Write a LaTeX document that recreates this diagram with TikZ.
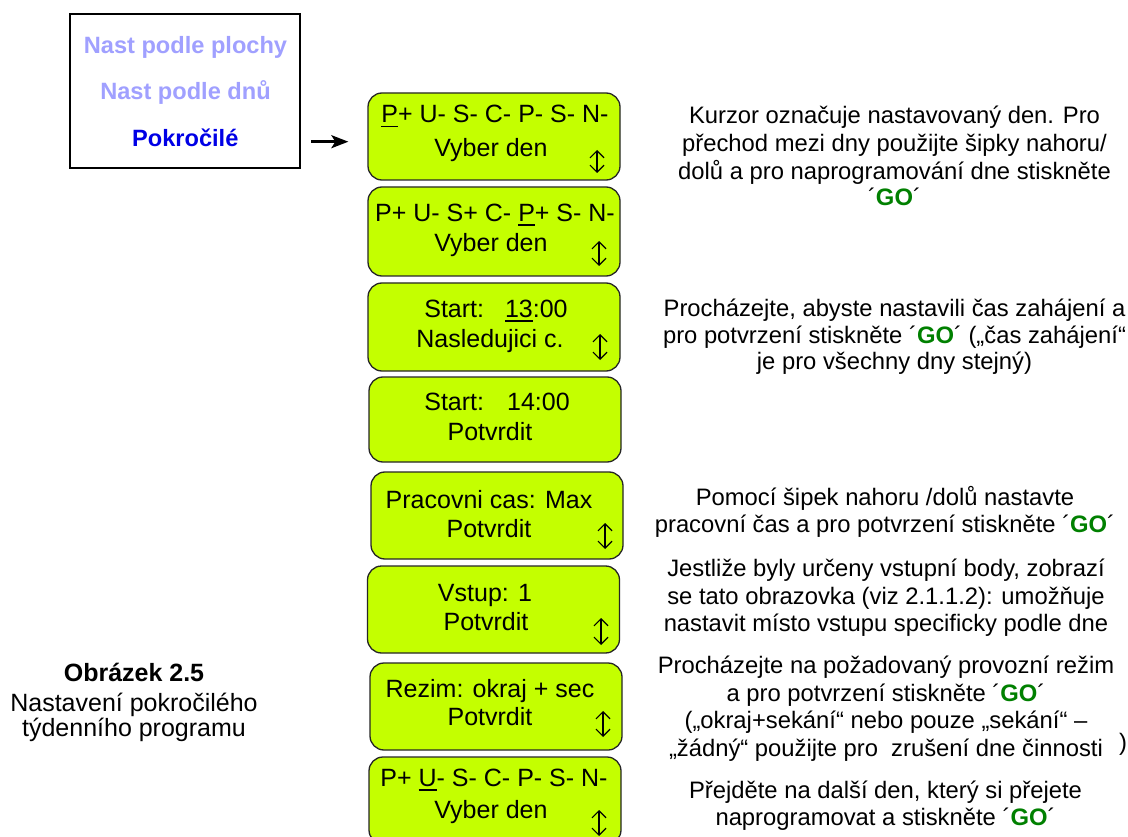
\documentclass[tikz,border=0pt]{standalone}
\usepackage{fontspec}
\setmainfont{Liberation Sans}
\usetikzlibrary{arrows.meta}
\definecolor{lcdfill}{RGB}{196,255,0}
\definecolor{lightmenu}{RGB}{160,160,255}
\definecolor{menublue}{RGB}{0,0,230}
\definecolor{gogreen}{RGB}{0,128,0}
\newcommand{\GOkey}{´\textbf{\textcolor{gogreen}{GO}}´}
\newcommand{\cursor}[1]{\setbox0=\hbox{#1}\rlap{\rule[-4.5pt]{\wd0}{1.8pt}}\box0}
\tikzset{
 lcd/.style={draw=black!85, line width=1.3pt, fill=lcdfill, rounded corners=14pt, minimum width=252pt, inner sep=0},
 lcdtxt/.style={anchor=base, inner sep=0, font=\fontsize{25}{30}\selectfont},
 note/.style={anchor=base, inner sep=0, font=\fontsize{23.8}{27.6}\selectfont},
 menutxt/.style={anchor=base, inner sep=0, font=\fontsize{23.6}{28}\selectfont\bfseries},
 captxt/.style={anchor=base, inner sep=0, font=\fontsize{25}{30}\selectfont},
 updown/.style={{Straight Barb[length=7pt,width=14pt]}-{Straight Barb[length=7pt,width=14pt]}, line width=1.2pt},
 arr/.style={-{Stealth[length=17pt,width=13pt,inset=4pt]}, line width=2.6pt}
}
\begin{document}
\begin{tikzpicture}[x=1pt,y=-1pt]
\clip (0,0) rectangle (1128,837);
\fill[white] (0,0) rectangle (1128,837);

% menu box
\node[draw, line width=2pt, minimum width=230pt, minimum height=154pt, inner sep=0] (menu) at (185.3,91.3) {};
\node[menutxt, text=lightmenu] (m1) at (185.5,53.3) {Nast podle plochy};
\node[menutxt, text=lightmenu] (m2) at (185.5,99.3) {Nast podle dnů};
\node[menutxt, text=menublue] (m3) at (185.3,146.7) {Pokročilé};

% LCD boxes
\node[lcd, minimum height=87pt] (b1) at (494,136.5) {};
\node[lcd, minimum height=89pt] (b2) at (494,231.5) {};
\node[lcd, minimum height=88pt] (b3) at (494,327) {};
\node[lcd, minimum height=85pt] (b4) at (495,419.5) {};
\node[lcd, minimum height=87pt] (b5) at (497,515.5) {};
\node[lcd, minimum height=87pt] (b6) at (493.5,609.5) {};
\node[lcd, minimum height=87pt] (b7) at (496,706.5) {};
\node[lcd, minimum height=87pt] (b8) at (495,800.5) {};

% LCD texts
\node[lcdtxt] (b1a) at (495,123) {\cursor{P}+ U- S- C- P- S- N-};
\node[lcdtxt] (b1b) at (491,157) {Vyber den};
\node[lcdtxt] (b2a) at (495,221.7) {P+ U- S+ C- \cursor{P}+ S- N-};
\node[lcdtxt] (b2b) at (491,251.7) {Vyber den};
\node[lcdtxt] (b3a) at (496,317.7) {Start:\hspace{21pt}\cursor{13}:00};
\node[lcdtxt] (b3b) at (490,348) {Nasledujici c.};
\node[lcdtxt] (b4a) at (497,410.7) {Start:\hspace{23pt}14:00};
\node[lcdtxt] (b4b) at (490,440) {Potvrdit};
\node[lcdtxt] (b5a) at (489,508) {Pracovni cas: Max};
\node[lcdtxt] (b5b) at (489,537) {Potvrdit};
\node[lcdtxt] (b6a) at (485,601.7) {Vstup: 1};
\node[lcdtxt] (b6b) at (486,630.7) {Potvrdit};
\node[lcdtxt] (b7a) at (490,697) {Rezim: okraj + sec};
\node[lcdtxt] (b7b) at (490,725.7) {Potvrdit};
\node[lcdtxt] (b8a) at (494,786.7) {P+ \cursor{U}- S- C- P- S- N-};
\node[lcdtxt] (b8b) at (491,818) {Vyber den};

% up/down arrows
\draw[updown] (597,150) -- (597,173);
\draw[updown] (599,241) -- (599,266);
\draw[updown] (600,334) -- (600,360);
\draw[updown] (605,523) -- (605,549);
\draw[updown] (601,618) -- (601,645);
\draw[updown] (603,711) -- (603,737);
\draw[updown] (599,810) -- (599,836);

% connector
\coordinate (arrowy) at (0,141.7);
\draw[arr, shorten <=10pt, shorten >=19pt] (menu.east |- arrowy) -- (b1.west |- arrowy);

% notes
\node[note] (n1a) at (894.5,123.3) {Kurzor označuje nastavovaný den. Pro};
\node[note] (n1b) at (894.5,151.7) {přechod mezi dny použijte šipky nahoru/};
\node[note] (n1c) at (894.5,179.3) {dolů a pro naprogramování dne stiskněte};
\node[note] (n1d) at (894.5,206) {\GOkey};

\node[note] (n2a) at (894.5,316.7) {Procházejte, abyste nastavili čas zahájení a};
\node[note] (n2b) at (894.5,343.3) {pro potvrzení stiskněte \GOkey{} („čas zahájení“};
\node[note] (n2c) at (894.5,370) {je pro všechny dny stejný)};

\node[note] (n3a) at (885,505) {Pomocí šipek nahoru /dolů nastavte};
\node[note] (n3b) at (885,532.7) {pracovní čas a pro potvrzení stiskněte \GOkey};

\node[note] (n4a) at (886,576.7) {Jestliže byly určeny vstupní body, zobrazí};
\node[note] (n4b) at (886,604) {se tato obrazovka (viz 2.1.1.2): umožňuje};
\node[note] (n4c) at (886,631.7) {nastavit místo vstupu specificky podle dne};

\node[note] (n5a) at (886,673.3) {Procházejte na požadovaný provozní režim};
\node[note] (n5b) at (886,701) {a pro potvrzení stiskněte \GOkey};
\node[note] (n5c) at (886,728.3) {(„okraj+sekání“ nebo pouze „sekání“ –};
\node[note] (n5d) at (886,756) {„žádný“ použijte pro\ \ zrušení dne činnosti};
\node[note] (n5e) at (1123,750) {)};

\node[note] (n6a) at (885.5,798.3) {Přejděte na další den, který si přejete};
\node[note] (n6b) at (885.5,825) {naprogramovat a stiskněte \GOkey};

% caption
\node[captxt, font=\fontsize{25}{30}\selectfont\bfseries] (c1) at (134,681.7) {Obrázek 2.5};
\node[captxt] (c2) at (134,711) {Nastavení pokročilého};
\node[captxt] (c3) at (134,736.5) {týdenního programu};
\end{tikzpicture}
\end{document}
